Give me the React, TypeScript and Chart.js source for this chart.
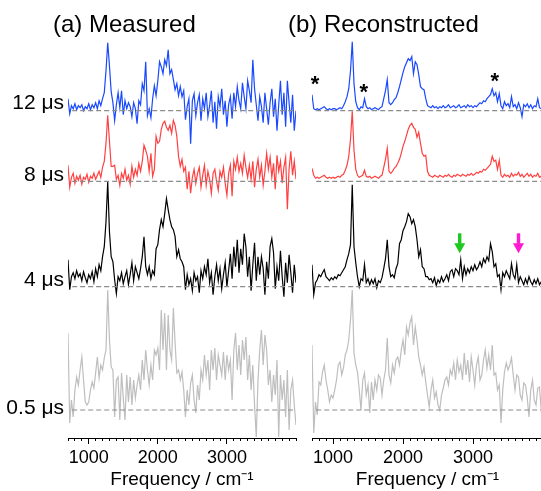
import React, { useEffect, useRef } from 'react';
import { Chart, registerables } from 'chart.js';

Chart.register(...registerables);

const FONT = '"Liberation Sans", Arial, Helvetica, sans-serif';

// Frequency grid (cm^-1)
const FREQ_MIN = 700;
const FREQ_MAX = 4000;
const FREQ_STEP = 25;
const FREQ: number[] = [];
for (let f = FREQ_MIN; f <= FREQ_MAX; f += FREQ_STEP) FREQ.push(f);

const MAJOR_TICKS = [1000, 2000, 3000];
const MINOR_TICKS: number[] = [];
for (let f = 700; f <= 4000; f += 100) MINOR_TICKS.push(f);

// Delay labels and vertical offsets of each trace (bottom to top)
const DELAY_LABELS = ['0.5 μs', '4 μs', '8 μs', '12 μs'];
const BASELINES = [0, 123.3, 228.7, 299.3];
const LABEL_RAISE = [2, 6, 6.5, 7.5];
const COLORS = ['rgb(190,190,190)', '#000000', 'rgb(255,64,64)', 'rgb(24,72,255)'];

// (a) Measured spectra (intensity above baseline)
const MEAS_12 = [
  12, -3, 5, 2, 7, 1, 5, 3, 6, 0,
  4, 2, 7, 1, 6, 3, 8, 2, 10, 5,
  12, 18, 40, 68, 45, 19, 8, -10, 6, 18,
  3, 20, -4, 10, 2, 8, 4, -6, 8, 2,
  -13, 10, 6, 27, 20, 49, -5, 2, -7, 12,
  25, 15, 30, 49, 44, 37, 51, 45, 61, 37,
  41, 31, 21, 27, 15, 24, 14, 20, -9, 4,
  12, -33, 10, 17, -5, 8, 16, -10, 12, 2,
  18, -6, 5, 20, -12, 9, -18, 14, 4, 22,
  -4, 10, -16, 6, 14, -8, 18, 4, 24, 10,
  2, 28, 14, 2, 30, 20, 8, 51, 22, 6,
  -10, 14, 4, -12, 18, 2, -14, 8, 22, -6,
  12, -20, 6, 30, -4, 18, -16, 30, 8, -12,
  16, -20, 0,
];
const MEAS_8 = [
  16, -6, 4, 8, -2, 5, 1, 6, -3, 4,
  2, 7, -1, 5, 3, 8, 2, 6, 10, 4,
  14, 20, 38, 66, 40, 15, 15, 16, 2, 6,
  -4, 8, 3, 12, 1, 6, -3, 15, 4, 12,
  6, 18, 10, 20, 36, 31, 25, 10, 28, 5,
  12, 45, 38, 40, 52, 58, 60, 54, 51, 56,
  48, 61, 56, 45, 25, 15, 22, 10, 14, -8,
  10, -12, 4, 12, -2, 8, 14, -6, 6, 16,
  -4, 10, 2, -12, 8, 12, 0, -9, 10, 4,
  14, -2, -14, 8, 16, -15, 20, 12, 24, 10,
  18, 8, 26, 14, 4, 16, 2, 20, -6, 12,
  22, 4, 16, -4, 10, 28, 12, 24, 4, 18,
  -8, 26, 10, 20, -2, 14, 24, -28, 12, 30,
  6, 20, 2,
];
const MEAS_4 = [
  27, -3, 10, 14, 8, 16, 10, 13, 6, 15,
  9, 4, 12, 8, 15, 5, 18, 10, 22, 16,
  30, 40, 65, 105, 55, 30, 25, 7, -7, 10,
  6, 14, 3, 10, 16, 2, 12, 24, 6, 20,
  14, 8, 18, 30, 50, 20, 12, 20, 8, 16,
  12, 38, 42, 57, 67, 60, 73, 88, 77, 67,
  60, 57, 50, 30, 37, 28, 25, 20, -3, 12,
  2, 8, -4, 14, 6, 10, -6, 16, 8, 20,
  12, 28, 4, 14, -8, 10, 22, 6, 18, -2,
  12, 24, 0, 16, 33, 8, 40, 20, 47, 14,
  38, 22, 53, 40, 10, 30, -4, 22, 44, 6,
  30, 12, 30, 18, -8, 25, 8, 40, 48, 34,
  -2, 20, 6, 36, 10, -10, 24, 4, 32, 14,
  -6, 22, 4,
];
const MEAS_05 = [
  77, -13, 10, -7, 20, 33, 25, 40, 53, 30,
  8, 5, 8, 20, 28, 22, 37, 53, 32, 45,
  40, 52, 60, 120, 70, 43, 40, -7, 30, 33,
  -10, 37, 12, -10, 35, 8, 33, 5, 30, 12,
  25, 35, 20, 50, 30, 60, 40, 25, 45, 30,
  60, 55, 62, 40, 100, 60, 97, 40, 95, 60,
  50, 102, 67, 37, 40, 30, 38, 20, -7, 20,
  5, 27, 35, 10, -3, 25, 10, 40, 30, 55,
  35, 50, 20, 60, 40, 62, 30, 55, 45, 35,
  58, 30, 55, 40, 50, 10, 60, 77, 40, 65,
  35, 70, 50, 73, 30, 55, 20, 45, 5, -27,
  30, 60, 80, 45, 75, 60, 25, 40, 8, 35,
  15, 50, -27, 35, 10, 30, -7, 40, -20, 20,
  30, 5, -15,
];

// (b) Reconstructed spectra
const REC_12 = [
  16, 2, 1, 2, 1, 2, 3, 4, 2, 1,
  2, 1, 2, 2, 1, 2, 3, 2, 5, 9,
  14, 22, 40, 69, 27, 9, 3, 1, 4, 3,
  12, 4, 2, 3, 1, 2, 3, 2, 1, 3,
  4, 12, 20, 31, 8, 6, 8, 11, 13, 18,
  24, 31, 38, 44, 48, 52, 50, 54, 37, 49,
  46, 36, 24, 22, 21, 12, 5, 4, 3, 5,
  3, 4, 2, 4, 3, 5, 3, 4, 6, 3,
  4, 5, 3, 4, 6, 3, 4, 5, 3, 6,
  4, 5, 3, 5, 4, 6, 8, 7, 10, 9,
  12, 14, 16, 22, 15, 18, 9, 17, 5, 2,
  9, 5, 7, 3, 14, 4, 6, 2, 8, 3,
  -6, 6, 4, 7, 3, 6, 2, 5, 4, 12,
  3, 2, 2,
];
const REC_8 = [
  13, 6, 3, 4, 3, 4, 5, 6, 4, 3,
  4, 3, 4, 3, 4, 5, 4, 6, 7, 11,
  16, 25, 42, 70, 31, 12, 6, 4, 5, 6,
  11, 5, 4, 5, 3, 4, 5, 4, 3, 5,
  6, 14, 22, 33, 10, 8, 10, 13, 15, 18,
  22, 28, 35, 40, 46, 52, 56, 58, 54, 52,
  44, 49, 38, 28, 25, 26, 10, 6, 5, 4,
  6, 5, 4, 6, 5, 4, 6, 5, 7, 5,
  4, 6, 5, 7, 6, 5, 7, 6, 5, 7,
  6, 8, 6, 7, 9, 8, 10, 9, 12, 11,
  13, 15, 17, 25, 20, 21, 12, 21, 6, 4,
  7, 5, 6, 4, 8, 5, 7, 6, 9, 5,
  7, 4, 6, 8, 5, 7, 4, 6, 5, 8,
  4, 5, 4,
];
const REC_4 = [
  22, -8, 4, 7, 12, 10, 14, 17, 10, 8,
  6, 9, 7, 10, 8, 12, 11, 14, 17, 20,
  27, 33, 42, 102, 40, 24, 10, 0, 8, 6,
  22, 4, 8, 2, 7, 3, 8, -1, 6, 4,
  9, 18, 28, 47, 20, 10, 12, 9, 18, 23,
  43, 47, 56, 60, 65, 73, 70, 63, 67, 60,
  47, 30, 37, 20, 18, 10, 10, 7, 8, 4,
  9, 1, 7, 4, 10, 5, 8, 12, 6, 15,
  17, 10, 18, 16, 12, 27, 8, 20, 12, 18,
  14, 20, 16, 22, 17, 20, 25, 20, 28, 24,
  30, 26, 43, 35, 20, 23, 10, 12, -3, 14,
  10, 16, 12, 8, 23, 12, 8, 22, 4, 10,
  6, 2, 8, 3, 10, 5, 2, 7, 3, 8,
  2, 5, 9,
];
const REC_05 = [
  65, -23, 8, -5, 28, 25, 38, 45, 30, 20,
  8, 15, 12, 20, 30, 45, 48, 35, 42, 55,
  60, 70, 90, 120, 57, 45, 38, 20, 0, 30,
  37, 15, 25, -3, 28, 10, 30, 20, 35, 32,
  15, 30, 40, 72, 35, 27, 45, 37, 50, 53,
  45, 60, 70, 55, 83, 75, 87, 93, 65, 83,
  70, 53, 45, 35, 43, 28, 15, 3, 20, 30,
  12, 18, 5, 0, 15, 22, 30, 33, 25, 40,
  35, 47, 30, 50, 38, 45, 30, 57, 35, 50,
  28, 53, 40, 25, 45, 53, 30, 35, 50, 60,
  42, 55, 40, 65, 35, 37, 20, 25, -13, 20,
  38, 47, 40, 45, 52, 35, 20, 35, 33, 15,
  10, 27, 25, 12, -7, 20, 30, 10, 5, 22,
  23, 0, 5,
];

// Annotations on panel (b)
const STAR_FREQ = [745, 1440, 3310];
const STAR_HEIGHT = [32, 24, 35]; // above the 12 μs baseline
const ARROW_FREQ = [2810, 3650];
const ARROW_COLORS = ['rgb(30,200,30)', 'rgb(255,26,210)'];
const ARROW_TOP = 53.4; // above the 4 μs baseline
const ARROW_TIP = 33.4;

const Y_MIN = -28;
const Y_MAX = 390;

const annotationPlugin = {
  id: 'panelAnnotations',
  afterDatasetsDraw(chart: any) {
    const { ctx, scales } = chart;
    const x = scales.x;
    const y = scales.y;
    ctx.save();
    ctx.fillStyle = '#000';
    ctx.font = `bold 22px ${FONT}`;
    ctx.textAlign = 'center';
    ctx.textBaseline = 'alphabetic';
    STAR_FREQ.forEach((f, i) => {
      const px = x.getPixelForValue(f);
      const py = y.getPixelForValue(BASELINES[3] + STAR_HEIGHT[i]);
      ctx.fillText('*', px, py + 12.5);
    });
    ARROW_FREQ.forEach((f, i) => {
      const px = x.getPixelForValue(f);
      const top = y.getPixelForValue(BASELINES[1] + ARROW_TOP);
      const tip = y.getPixelForValue(BASELINES[1] + ARROW_TIP);
      const headH = 10;
      const headW = 5.5;
      const shaftW = 1.7;
      ctx.fillStyle = ARROW_COLORS[i];
      ctx.fillRect(px - shaftW, top, shaftW * 2, tip - headH - top + 0.5);
      ctx.beginPath();
      ctx.moveTo(px - headW, tip - headH);
      ctx.lineTo(px + headW, tip - headH);
      ctx.lineTo(px, tip);
      ctx.closePath();
      ctx.fill();
    });
    ctx.restore();
  },
};

type PanelProps = {
  series: number[][];
  left: number;
  width: number;
  padLeft: number;
  padRight: number;
  showDelays: boolean;
  annotate: boolean;
};

function SpectrumPanel({ series, left, width, padLeft, padRight, showDelays, annotate }: PanelProps) {
  const ref = useRef<HTMLCanvasElement | null>(null);
  useEffect(() => {
    const canvas = ref.current;
    if (!canvas) return;
    const datasets: any[] = [];
    BASELINES.forEach((b) => {
      datasets.push({
        data: [{ x: 760, y: b }, { x: FREQ_MAX, y: b }],
        borderColor: 'rgb(140,140,140)',
        borderWidth: 1.2,
        borderDash: [5, 3],
        pointRadius: 0,
      });
    });
    series.forEach((s, i) => {
      datasets.push({
        data: FREQ.map((f, k) => ({ x: f, y: BASELINES[i] + s[k] })),
        borderColor: COLORS[i],
        borderWidth: 1.2,
        pointRadius: 0,
        tension: 0,
      });
    });
    const chart = new Chart(canvas, {
      type: 'line',
      data: { datasets },
      options: {
        responsive: false,
        animation: false,
        devicePixelRatio: 1,
        layout: { padding: { top: 20, left: padLeft, right: padRight, bottom: 0 } },
        plugins: { legend: { display: false }, tooltip: { enabled: false }, title: { display: false } },
        scales: {
          xMinor: {
            type: 'linear',
            position: 'bottom',
            min: FREQ_MIN,
            max: FREQ_MAX,
            afterBuildTicks: (s: any) => {
              s.ticks = MINOR_TICKS.map((v) => ({ value: v }));
            },
            afterFit: (s: any) => {
              s.height = 0;
            },
            ticks: { display: false },
            grid: { drawOnChartArea: false, drawTicks: true, tickLength: 3, tickColor: '#000', tickWidth: 1 },
            border: { display: false },
          },
          x: {
            type: 'linear',
            position: 'bottom',
            min: FREQ_MIN,
            max: FREQ_MAX,
            afterBuildTicks: (s: any) => {
              s.ticks = MAJOR_TICKS.map((v) => ({ value: v }));
            },
            afterFit: (s: any) => {
              s.height = 53;
            },
            ticks: {
              padding: 3,
              color: '#000',
              maxRotation: 0,
              autoSkip: false,
              font: { size: 18, family: FONT },
              callback: (v: any) => String(v),
            },
            grid: { drawOnChartArea: false, drawTicks: true, tickLength: 6, tickColor: '#000', tickWidth: 1 },
            border: { display: true, color: '#000', width: 1 },
            title: {
              display: true,
              text: 'Frequency / cm⁻¹',
              color: '#000',
              font: { size: 19, family: FONT },
              padding: { top: 0, bottom: 0 },
            },
          },
          y: {
            type: 'linear',
            display: showDelays,
            min: Y_MIN,
            max: Y_MAX,
            afterBuildTicks: (s: any) => {
              s.ticks = BASELINES.map((v, i) => ({ value: v + LABEL_RAISE[i] }));
            },
            afterFit: (s: any) => {
              s.width = showDelays ? 68 : 0;
            },
            ticks: {
              padding: 4,
              color: '#000',
              font: { size: 21, family: FONT },
              callback: (_v: any, i: number) => DELAY_LABELS[i] ?? '',
            },
            grid: { display: false, drawTicks: false },
            border: { display: false },
          },
        },
      } as any,
      plugins: annotate ? [annotationPlugin] : [],
    });
    return () => chart.destroy();
  }, []);
  return (
    <canvas
      ref={ref}
      width={width}
      height={491}
      style={{ position: 'absolute', left, top: 0, width, height: 491 }}
    />
  );
}

export default function App() {
  const titleStyle: React.CSSProperties = {
    position: 'absolute',
    top: 12,
    fontFamily: FONT,
    fontSize: 24,
    lineHeight: '24px',
    color: '#000',
    whiteSpace: 'nowrap',
  };
  return (
    <div
      style={{
        position: 'absolute',
        left: 0,
        top: 0,
        width: 541,
        height: 491,
        overflow: 'hidden',
        background: '#fff',
      }}
    >
      <SpectrumPanel
        series={[MEAS_05, MEAS_4, MEAS_8, MEAS_12]}
        left={0}
        width={300}
        padLeft={0}
        padRight={4}
        showDelays={true}
        annotate={false}
      />
      <SpectrumPanel
        series={[REC_05, REC_4, REC_8, REC_12]}
        left={300}
        width={243}
        padLeft={12}
        padRight={0}
        showDelays={false}
        annotate={true}
      />
      <div style={{ ...titleStyle, left: 53 }}>(a) Measured</div>
      <div style={{ ...titleStyle, left: 288 }}>(b) Reconstructed</div>
    </div>
  );
}
